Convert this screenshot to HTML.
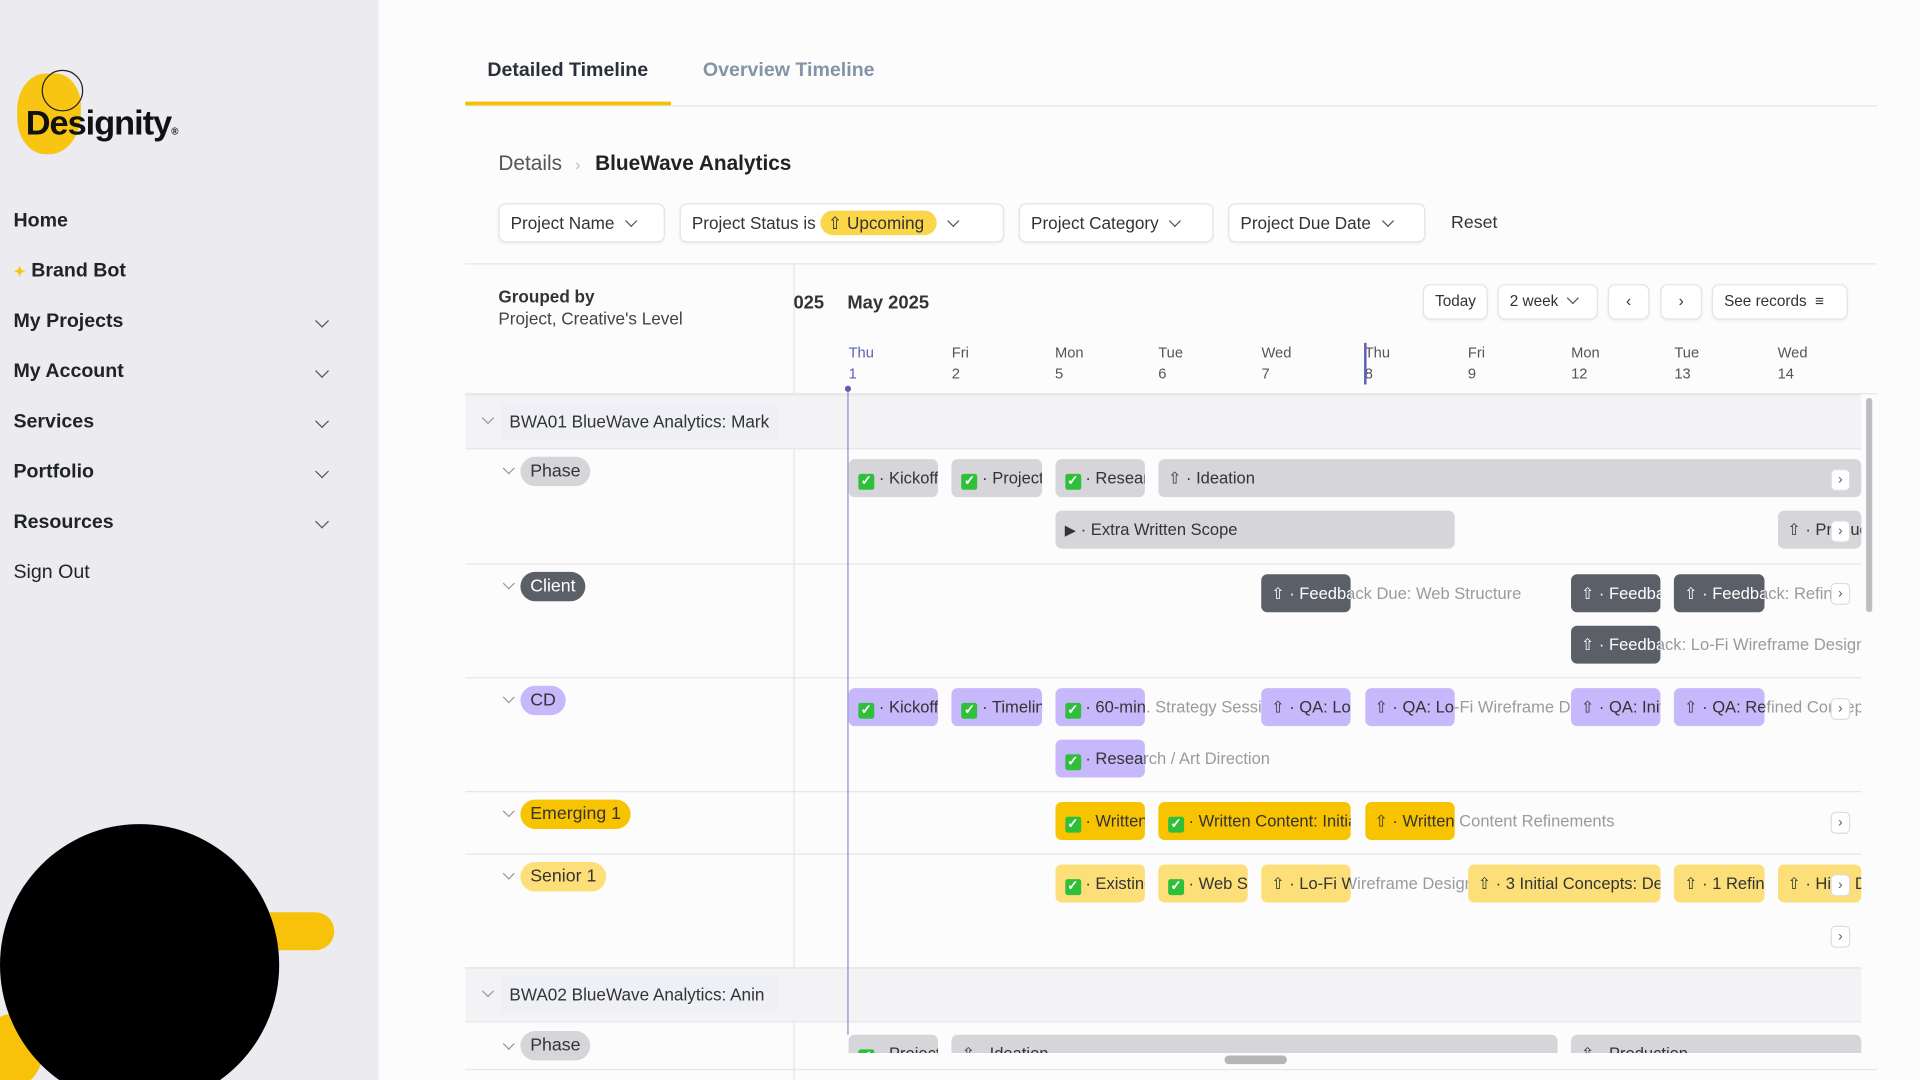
<!DOCTYPE html>
<html><head><meta charset="utf-8">
<style>
html,body{margin:0;padding:0;width:1920px;height:1080px;overflow:hidden;background:#fff;font-family:"Liberation Sans",sans-serif;}
#root{position:absolute;left:0;top:0;width:1568px;height:882px;transform:scale(1.22449);transform-origin:0 0;background:#fcfcfc;overflow:hidden;}
.abs{position:absolute;}
.nav{position:absolute;left:11px;font-size:16px;font-weight:bold;color:#1f2328;}
.chev{position:absolute;left:259px;width:7px;height:7px;border-right:1.5px solid #555;border-bottom:1.5px solid #555;transform:rotate(45deg);}
.btn{position:absolute;border:1px solid #e4e4e7;border-radius:6px;background:#fff;box-shadow:0 1px 2px rgba(0,0,0,.05);font-size:14px;color:#333;box-sizing:border-box;padding:0 9px;line-height:30px;white-space:nowrap;}
.sm{font-size:12.5px;line-height:27px;}
.dchev{display:inline-block;width:6px;height:6px;border-right:1.3px solid #555;border-bottom:1.3px solid #555;transform:rotate(45deg);margin-left:10px;position:relative;top:-3px;}
.day{position:absolute;font-size:12px;color:#555;line-height:17px;}
.rchev{position:absolute;width:6px;height:6px;border-right:1.3px solid #999;border-bottom:1.3px solid #999;transform:rotate(45deg);}
.chip{position:absolute;border-radius:12px;font-size:14.5px;padding:0 8px;line-height:24px;color:#333;}
.bar{position:absolute;height:31px;border-radius:5px;overflow:hidden;white-space:nowrap;font-size:13.5px;line-height:31px;box-sizing:border-box;padding-left:8px;}
.ghost{position:absolute;height:31px;overflow:hidden;white-space:nowrap;font-size:13.5px;line-height:31px;color:#9a9aa0;padding-left:8px;box-sizing:border-box;}
.ck{display:inline-block;width:13px;height:13px;background:#2fbf3a;border-radius:2px;color:#fff;font-size:11px;line-height:13px;text-align:center;vertical-align:-1px;font-weight:bold;}
.xb{position:absolute;width:14px;height:16px;border:1px solid #ddd;border-radius:4px;background:#fff;font-size:11px;line-height:16px;text-align:center;color:#555;}
</style></head><body>
<div id="root">
<div class="abs" style="left:0;top:0;width:309px;height:882px;background:#ebebf0"></div>
<div class="abs" style="left:14px;top:60px;width:52px;height:66px;background:#f7c512;border-radius:45% 40% 50% 45%"></div>
<div class="abs" style="left:34px;top:57px;width:32px;height:32px;border:1.5px solid #222;border-radius:50%"></div>
<div class="abs" style="left:21px;top:85px;font-size:28px;font-weight:bold;color:#111;letter-spacing:-0.8px">Designity<span style="font-size:8px">®</span></div>
<div class="nav" style="top:172px">Home</div>
<div class="nav" style="top:213px"><span style="color:#f5c518;font-size:12px">✦</span> Brand Bot</div>
<div class="nav" style="top:254px">My Projects</div><div class="chev" style="top:258px"></div>
<div class="nav" style="top:295px">My Account</div><div class="chev" style="top:299px"></div>
<div class="nav" style="top:336px">Services</div><div class="chev" style="top:340px"></div>
<div class="nav" style="top:377px">Portfolio</div><div class="chev" style="top:381px"></div>
<div class="nav" style="top:418px">Resources</div><div class="chev" style="top:422px"></div>
<div class="nav" style="top:459px;font-weight:normal">Sign Out</div>
<div class="abs" style="left:200px;top:745px;width:73px;height:31px;background:#f8c20a;border-radius:16px"></div>
<div class="abs" style="left:-15px;top:828px;width:50px;height:60px;background:#f8c20a;border-radius:50%"></div>
<div class="abs" style="left:0;top:673px;width:228px;height:230px;background:#000;border-radius:50%"></div>
<div class="abs" style="left:398px;top:49px;font-size:16px;font-weight:bold;color:#2a2f3a">Detailed Timeline</div>
<div class="abs" style="left:574px;top:49px;font-size:16px;font-weight:bold;color:#8593a6">Overview Timeline</div>
<div class="abs" style="left:380px;top:86px;width:1153px;height:1px;background:#e6e6e8"></div>
<div class="abs" style="left:380px;top:83px;width:168px;height:3px;background:#f5c000"></div>
<div class="abs" style="left:407px;top:124px;font-size:17px;color:#555">Details <span style="color:#bbb;font-size:13px;margin:0 6px">›</span></div>
<div class="abs" style="left:486px;top:124px;font-size:17px;font-weight:bold;color:#222">BlueWave Analytics</div>
<div class="btn" style="left:407px;top:166px;width:136px;height:32px">Project Name<span class="dchev"></span></div>
<div class="btn" style="left:555px;top:166px;width:265px;height:32px">Project Status is <span style="background:#fbd54a;border-radius:10px;padding:2px 10px 2px 6px;color:#333">⇧ Upcoming</span><span class="dchev"></span></div>
<div class="btn" style="left:832px;top:166px;width:159px;height:32px">Project Category<span class="dchev"></span></div>
<div class="btn" style="left:1003px;top:166px;width:161px;height:32px">Project Due Date<span class="dchev"></span></div>
<div class="abs" style="left:1185px;top:174px;font-size:14.5px;color:#333">Reset</div>
<div class="abs" style="left:380px;top:215px;width:1153px;height:1px;background:#e6e6e8"></div>
<div class="abs" style="left:407px;top:234px;font-size:14px;font-weight:bold;color:#333">Grouped by</div>
<div class="abs" style="left:407px;top:252px;font-size:14px;color:#444">Project, Creative's Level</div>
<div class="abs" style="left:648px;top:216px;width:1px;height:666px;background:#e6e6e8"></div>
<div class="abs" style="left:648px;top:239px;font-size:15px;font-weight:bold;color:#333">025</div>
<div class="abs" style="left:692px;top:239px;font-size:15px;font-weight:bold;color:#333">May 2025</div>
<div class="btn sm" style="left:1162px;top:232px;width:53px;height:29px">Today</div>
<div class="btn sm" style="left:1223px;top:232px;width:82px;height:29px">2 week<span class="dchev" style="margin-left:8px"></span></div>
<div class="btn sm" style="left:1313px;top:232px;width:34px;height:29px;text-align:center;padding:0">‹</div>
<div class="btn sm" style="left:1356px;top:232px;width:34px;height:29px;text-align:center;padding:0">›</div>
<div class="btn sm" style="left:1398px;top:232px;width:111px;height:29px">See records &nbsp;≡</div>
<div class="abs" style="left:380px;top:321px;width:1153px;height:1px;background:#e6e6e8"></div>
<div class="abs" style="left:1524px;top:325px;width:5px;height:175px;background:#bdbdc2;border-radius:3px"></div>
<div class="abs" style="left:1000px;top:862px;width:51px;height:7px;background:#b5b5b8;border-radius:4px"></div>
</div>
<script>
const dayNames = ["Thu","Fri","Mon","Tue","Wed","Thu","Fri","Mon","Tue","Wed"];
const dayNums = ["1","2","5","6","7","8","9","12","13","14"];
const rowNames = ["Phase","Client","CD","Emerging 1","Senior 1"];
const rowTops = [366,460,553,646,697];
const rowBottoms = [460,553,646,697,790];
const barRows = [0,0,0,0,0,0, 1,1,1,1, 2,2,2,2,2,2,2,2, 3,3,3, 4,4,4,4,4,4];
const barLanes = [0,0,0,0,1,1, 0,0,0,1, 0,0,0,0,0,0,0,1, 0,0,0, 0,0,0,0,0,0];
const barStarts = [0,1,2,3,2,9, 4,7,8,7, 0,1,2,4,5,7,8,2, 2,3,5, 2,3,4,6,8,9];
const barSpans = [1,1,1,7,4,1, 1,1,1,1, 1,1,1,1,1,1,1,1, 1,2,1, 1,1,1,2,1,1];
const barOver = [0,0,0,0,0,0, 3,0,1,3, 0,0,2,0,2,0,1,2, 0,0,3, 0,0,2,0,0,0];
const barLabels = ["Kickoff","Project","Research","Ideation","Extra Written Scope","Production",
 "Feedback Due: Web Structure","Feedback","Feedback: Refined","Feedback: Lo-Fi Wireframe Design",
 "Kickoff","Timeline","60-min. Strategy Session","QA: Lo","QA: Lo-Fi Wireframe Design","QA: Initial","QA: Refined Concepts","Research / Art Direction",
 "Written","Written Content: Initial","Written Content Refinements",
 "Existing","Web Structure","Lo-Fi Wireframe Design","3 Initial Concepts: Design","1 Refinement","Hi-Fi Design"];
const barIcons = ["c","c","c","u","p","u", "u","u","u","u", "c","c","c","u","u","u","u","c", "c","c","u", "c","c","u","u","u","u"];
const b2Labels = ["Project","Ideation","Production"];
const b2Starts = [0,1,7];
const b2Spans = [1,6,3];
const b2Icons = ["c","u","u"];

const X0=693, COL=84.3, XMAX=1520;
const xOf = i => X0 + i*COL;
const root=document.getElementById('root');
const rowStyles=[{bg:"#d6d6da",fg:"#333",chip:"#d6d6da",cfg:"#333"},{bg:"#5b5f67",fg:"#fff",chip:"#5b5f67",cfg:"#fff"},{bg:"#c6b8fb",fg:"#333",chip:"#c6b8fb",cfg:"#333"},{bg:"#f8c300",fg:"#333",chip:"#f8c300",cfg:"#333"},{bg:"#fddf7a",fg:"#333",chip:"#fddf7a",cfg:"#333"}];
function mk(cls,css){const d=document.createElement('div');d.className=cls;d.style.cssText=css;root.appendChild(d);return d;}
function iconHtml(k){return k==="c"?'<span class="ck">✓</span> · ':k==="p"?'<span style="font-size:12px">▶</span> · ':'<span style="font-size:13px">⇧</span> · ';}

dayNames.forEach((n,i)=>{
  const col=i===0?"#5a5fb8":"#555";
  const d=mk('day','left:'+xOf(i)+'px;top:280px;color:'+col);
  d.innerHTML=n+'<br>'+dayNums[i];
  
  
});
let t=mk('abs','left:1114px;top:280px;width:2px;height:34px;background:#5a5fb8');


[[322,"BWA01 BlueWave Analytics: Mark"],[790,"BWA02 BlueWave Analytics: Anin"]].forEach(([y,txt],k)=>{
  const g=mk('abs','left:380px;top:'+y+'px;width:1140px;height:45px;background:#f3f3f5;border-top:1px solid #e6e6e8;border-bottom:1px solid #e6e6e8;box-sizing:border-box');
  
  
  const c=mk('rchev','left:395px;top:'+(y+16)+'px');
  
  
  const l=mk('abs','left:410px;top:'+(y+7)+'px;width:225px;height:30px;background:#eef0f6;font-size:14px;line-height:30px;color:#333;padding-left:6px;overflow:hidden;white-space:nowrap;box-sizing:border-box');
  l.textContent=txt;
  
  
});
rowNames.forEach((n,r)=>{
  const s=rowStyles[r];
  const line=mk('abs','left:380px;top:'+rowBottoms[r]+'px;width:1140px;height:1px;background:#e6e6e8');
  
  
  const c=mk('rchev','left:412px;top:'+(rowTops[r]+13)+'px');
  
  
  const ch=mk('chip','left:425px;top:'+(rowTops[r]+7)+'px;background:'+s.chip+';color:'+s.cfg);
  ch.textContent=n;
  
  
});
let pc=mk('rchev','left:412px;top:849px');


let pch=mk('chip','left:425px;top:842px;background:#d6d6da');
pch.textContent="Phase";


let bl=mk('abs','left:380px;top:873px;width:1153px;height:1px;background:#e6e6e8');


let tl=mk('abs','left:692px;top:318px;width:1px;height:527px;background:#8a8fc8');


let td=mk('abs','left:690px;top:315px;width:5px;height:5px;border-radius:50%;background:#5a5fb8');


barLabels.forEach((lab,i)=>{
  const r=barRows[i], s=rowStyles[r];
  const x=xOf(barStarts[i]);
  const y=rowTops[r]+9+barLanes[i]*42;
  const w=Math.min(barSpans[i]*COL-11, XMAX-x);
  if(barOver[i]>0){
    const gw=Math.min((barSpans[i]+barOver[i])*COL-11, XMAX-x);
    const g=mk('ghost','left:'+x+'px;top:'+y+'px;width:'+gw+'px');
    g.innerHTML=iconHtml(barIcons[i])+lab;
    
    
  }
  const b=mk('bar','left:'+x+'px;top:'+y+'px;width:'+w+'px;background:'+s.bg+';color:'+s.fg);
  b.innerHTML=iconHtml(barIcons[i])+lab;
  
  
});
b2Labels.forEach((lab,i)=>{
  const x=xOf(b2Starts[i]);
  const w=Math.min(b2Spans[i]*COL-11, XMAX-x);
  const b=mk('bar','left:'+x+'px;top:845px;width:'+w+'px;height:15px;border-radius:5px 5px 0 0;background:#d6d6da;color:#333');
  b.innerHTML=iconHtml(b2Icons[i])+lab;
  
  
});
[383,425,476,570,663,714,756].forEach(y=>{
  const e=mk('xb','left:1495px;top:'+y+'px');
  e.textContent='›';
  
  
});
</script>
</body></html>
